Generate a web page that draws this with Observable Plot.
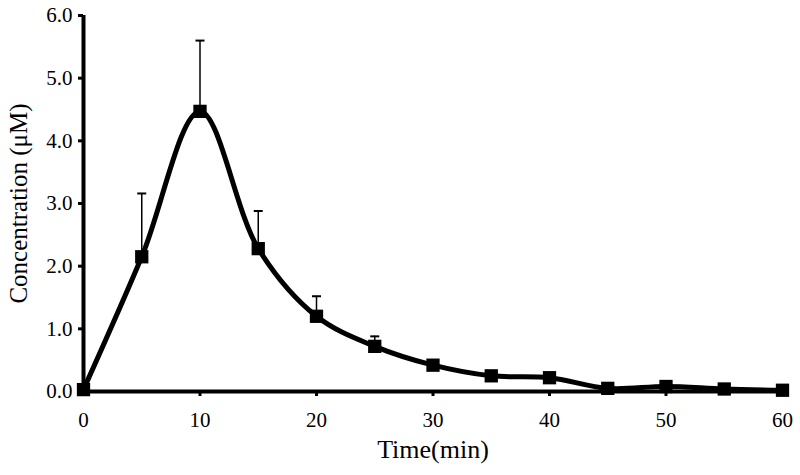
<!DOCTYPE html>
<html><head><meta charset="utf-8">
<script src="https://cdn.jsdelivr.net/npm/d3@7"></script>
<script src="https://cdn.jsdelivr.net/npm/@observablehq/plot@0.6"></script>
<style>body{margin:0;background:#fff;} svg{font-family:"Liberation Serif","Times New Roman",serif;}</style>
</head><body><div id="chart"></div>
<script>
const times = [0,5,10,15,20,25,30,35,40,45,50,55,60];
const conc = [0.03,2.15,4.47,2.28,1.20,0.72,0.42,0.25,0.22,0.05,0.08,0.04,0.02];
const err = [0,1.01,1.13,0.60,0.32,0.16,0.04,0.03,0.03,0.02,0.02,0.01,0.01];
const xTicks = [0,10,20,30,40,50,60];
const yTicks = [0,1,2,3,4,5,6];
const data = times.map((t,i)=>({t, c: conc[i], top: conc[i]+err[i]}));
const capSymbol = {draw(ctx){ctx.moveTo(-4.5,0);ctx.lineTo(4.5,0);}};
const plot = Plot.plot({
  width: 800, height: 475,
  marginLeft: 83, marginRight: 18, marginTop: 15, marginBottom: 84,
  style: {fontFamily: '"Liberation Serif","Times New Roman",serif', fontSize: "21px", color: "#000", background: "#fff"},
  x: {domain: [0,60], label: null},
  y: {domain: [0,6], label: null},
  marks: [
    Plot.axisX({ticks: xTicks, tickSize: 5, strokeWidth: 3, tickPadding: 16, fontSize: 21}),
    Plot.axisY({ticks: yTicks, tickFormat: d3.format(".1f"), tickSize: 5, strokeWidth: 3, tickPadding: 6, fontSize: 21}),
    Plot.ruleX(data.filter(d=>d.top-d.c>0.05), {x: "t", y1: "c", y2: "top", stroke: "#000", strokeWidth: 1.5}),
    Plot.dot(data.filter(d=>d.top-d.c>0.05), {x: "t", y: "top", symbol: capSymbol, stroke: "#000", strokeWidth: 2, r: 5}),
    Plot.line(data, {x: "t", y: "c", curve: "catmull-rom", stroke: "#000", strokeWidth: 5}),
    Plot.dot(data, {x: "t", y: "c", symbol: "square", fill: "#000", r: 7.5}),
    Plot.ruleX([0], {stroke: "#000", strokeWidth: 4}),
    Plot.ruleY([0], {stroke: "#000", strokeWidth: 4}),
    Plot.text(["Time(min)"], {frameAnchor: "bottom", dy: 66, fontSize: 26}),
    Plot.text(["Concentration (μM)"], {frameAnchor: "left", textAnchor: "middle", dx: -65, rotate: -90, fontSize: 25})
  ]
});
document.getElementById("chart").appendChild(plot);
</script></body></html>
